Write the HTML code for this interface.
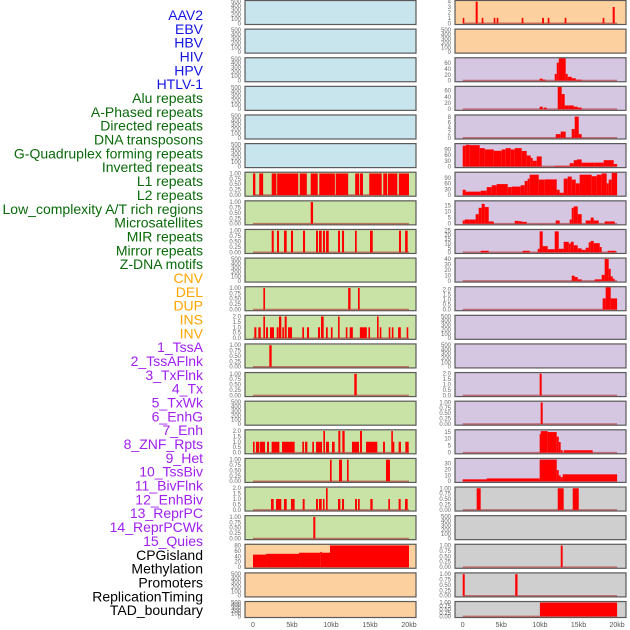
<!DOCTYPE html>
<html><head><meta charset="utf-8"><style>
html,body{margin:0;padding:0;background:#fff;width:630px;height:630px;overflow:hidden}
svg{display:block;font-family:"Liberation Sans",sans-serif}
</style></head><body>
<svg id="chart" width="630" height="630" viewBox="0 0 630 630"></svg>
<script>
const trackLabels=["AAV2","EBV","HBV","HIV","HPV","HTLV-1","Alu repeats","A-Phased repeats","Directed repeats","DNA transposons","G-Quadruplex forming repeats","Inverted repeats","L1 repeats","L2 repeats","Low_complexity A/T rich regions","Microsatellites","MIR repeats","Mirror repeats","Z-DNA motifs","CNV","DEL","DUP","INS","INV","1_TssA","2_TssAFlnk","3_TxFlnk","4_Tx","5_TxWk","6_EnhG","7_Enh","8_ZNF_Rpts","9_Het","10_TssBiv","11_BivFlnk","12_EnhBiv","13_ReprPC","14_ReprPCWk","15_Quies","CPGisland","Methylation","Promoters","ReplicationTiming","TAD_boundary"];
const labelColors=["#1515e0","#1515e0","#1515e0","#1515e0","#1515e0","#1515e0","#0a6a0a","#0a6a0a","#0a6a0a","#0a6a0a","#0a6a0a","#0a6a0a","#0a6a0a","#0a6a0a","#0a6a0a","#0a6a0a","#0a6a0a","#0a6a0a","#0a6a0a","#ffa500","#ffa500","#ffa500","#ffa500","#ffa500","#a020f0","#a020f0","#a020f0","#a020f0","#a020f0","#a020f0","#a020f0","#a020f0","#a020f0","#a020f0","#a020f0","#a020f0","#a020f0","#a020f0","#a020f0","#000","#000","#000","#000","#000"];
const xTickValues=[0,5,10,15,20];
const xTickLabels=["0","5kb","10kb","15kb","20kb"];
const tickSets={
 t500:[[0,100,200,300,400,500],["0","100","200","300","400","500"]],
 t1:[[0,0.25,0.5,0.75,1],["0.00","0.25","0.50","0.75","1.00"]],
 t2:[[0,0.5,1,1.5,2],["0.0","0.5","1.0","1.5","2.0"]],
 t4:[[0,1,2,3,4],["0","1","2","3","4"]],
 t8:[[0,2,4,6,8],["0","2","4","6","8"]],
 t15:[[0,5,10,15],["0","5","10","15"]],
 t25:[[0,5,10,15,20,25],["0","5","10","15","20","25"]],
 t30:[[0,10,20,30],["0","10","20","30"]],
 t40:[[0,10,20,30,40],["0","10","20","30","40"]],
 t60:[[0,20,40,60],["0","20","40","60"]],
 t80:[[0,20,40,60,80],["0","20","40","60","80"]],
 t90:[[0,30,60,90],["0","30","60","90"]]
};
const leftBg=["#c8e4ec","#c8e4ec","#c8e4ec","#c8e4ec","#c8e4ec","#c8e4ec","#c9e2a5","#c9e2a5","#c9e2a5","#c9e2a5","#c9e2a5","#c9e2a5","#c9e2a5","#c9e2a5","#c9e2a5","#c9e2a5","#c9e2a5","#c9e2a5","#c9e2a5","#fdd09f","#fdd09f","#fdd09f"];
const rightBg=["#fdd09f","#fdd09f","#d5c6e2","#d5c6e2","#d5c6e2","#d5c6e2","#d5c6e2","#d5c6e2","#d5c6e2","#d5c6e2","#d5c6e2","#d5c6e2","#d5c6e2","#d5c6e2","#d5c6e2","#d5c6e2","#d5c6e2","#cfcfcf","#cfcfcf","#cfcfcf","#cfcfcf","#cfcfcf"];
const leftDomain=[510,510,510,510,510,510,1.03,1.03,1.03,510,1.03,2.05,1.03,1.03,510,2.05,1.03,2.05,1.03,82,510,510];
const leftTicks=["t500","t500","t500","t500","t500","t500","t1","t1","t1","t500","t1","t2","t1","t1","t500","t2","t1","t2","t1","t80","t500","t500"];
const rightDomain=[4.1,510,77,72,8.6,118,118,18.3,25.5,40.5,2.2,510,510,2.05,1.03,16,38,1.03,510,1.03,1.03,1.03];
const rightTicks=["t4","t500","t60","t60","t8","t90","t90","t15","t25","t40","t2","t500","t500","t2","t1","t15","t30","t1","t500","t1","t1","t1"];
const leftSegments=[[],[],[],[],[],[],
 [[0,0.3,1],[0.8,1.3,1],[2.4,3,1],[3.1,5.8,1],[6,6.9,1],[7.4,8.3,1],[8.5,10.5,1],[10.6,12.2,1],[13.1,13.6,1],[13.7,14.1,1],[14.9,16.5,1],[16.7,17.2,1],[17.3,18.5,1],[18.7,20,1]],
 [[7.4,7.7,1]],
 [[2.4,2.66,1],[3.08,3.33,1],[3.97,4.32,1],[4.87,5.13,1],[6.41,6.67,1],[8.08,8.33,1],[8.46,8.81,1],[8.97,9.23,1],[9.36,9.71,1],[10.9,11.15,1],[11.41,11.67,1],[13.08,13.3,1],[15,15.35,1],[18.72,18.97,1],[19.5,19.83,1]],
 [],
 [[1.33,1.54,1],[12.2,12.5,1],[13.46,13.68,1]],
 [[0.17,0.43,1],[0.68,0.99,1],[1.33,1.54,2],[1.67,1.92,1],[2.18,2.69,1],[3.04,3.29,1],[3.33,3.63,2],[3.76,3.97,1],[4.06,4.32,2],[4.49,5,1],[6.32,6.54,1],[6.92,7.18,1],[8.33,8.59,1],[8.72,9.06,2],[9.36,9.58,1],[9.99,10.2,1],[10.9,11.1,2],[11.9,12.1,1],[12.4,12.8,1],[13.7,14.6,1],[14.8,15,1],[15.9,16.1,2],[16.25,16.45,1],[17.4,17.6,1],[17.8,18,1],[18.6,18.95,1],[19.7,19.9,1]],
 [[2.09,2.39,1]],
 [[12.99,13.3,1]],
 [],
 [[0,0.21,1],[0.38,0.81,1],[0.9,1.54,1],[1.8,2.05,1],[2.39,3.38,1],[3.72,5.34,1],[6.32,6.54,1],[6.67,6.97,1],[7.6,7.82,1],[8.08,8.85,1],[9.02,9.23,2],[9.36,9.74,1],[10.13,10.47,1],[10.94,11.2,2],[11.45,11.75,2],[12.69,13.33,1],[13.33,13.59,1],[13.72,13.97,2],[14.49,15.94,1],[16.67,16.92,1],[17.73,17.91,2],[17.91,18.12,1],[18.67,18.97,1],[19.53,19.96,1]],
 [[9.87,10.08,1],[11.03,11.41,1],[12.05,12.26,1],[17.05,17.56,1]],
 [[2.31,2.65,1],[2.95,3.63,1],[3.97,4.32,1],[4.87,5.34,1],[6.37,6.62,1],[8.08,8.33,1],[8.46,8.81,1],[8.97,9.15,1],[9.36,9.57,2],[10.9,11.2,1],[11.41,11.67,1],[13.08,13.33,1],[13.46,13.68,1],[15.04,15.34,1],[17.35,17.56,1],[18.67,18.93,1],[19.49,19.83,1]],
 [[7.73,7.99,1]],
 [[0,1.67,46],[1.67,5.9,49],[5.9,8.63,53],[8.63,8.75,56],[8.75,9.87,53],[9.87,20,80]],
 [],[]];
const rightSegments=[
 [[0,0.13,1],[1.68,1.94,4],[2.46,2.68,1],[4.02,4.23,1],[4.4,4.62,1],[7.64,7.86,1],[10.28,10.53,1],[11.01,11.23,1],[13.21,13.43,1],[18.13,18.35,1],[19.43,19.69,3]],
 [],
 [[9.97,10.36,6.5],[10.36,10.75,3],[11.92,12.18,23],[12.18,12.44,62],[12.44,13.34,78],[13.34,13.6,23],[13.6,14.12,13],[14.12,14.64,8],[14.64,14.9,3],[14.9,15.41,3]],
 [[9.97,10.36,8],[10.49,10.88,5],[12.31,12.82,72],[12.82,13.21,49],[13.21,13.73,12],[13.73,14.38,12],[14.38,14.9,8],[14.9,15.41,5]],
 [[12.05,12.69,1.4],[12.69,13.34,2.4],[14.12,14.51,3.4],[14.51,15.03,8.2],[15.03,15.41,1.4]],
 [[0,0.39,110],[0.39,0.91,115],[0.91,2.2,113],[2.2,2.85,97],[2.85,4.02,90],[4.02,5.05,83],[5.05,5.57,90],[5.57,6.22,97],[6.22,6.74,90],[6.74,7.64,97],[7.64,8.29,82],[8.29,8.81,58],[8.81,9.07,45],[9.07,9.59,30],[9.59,10.23,53],[11.92,12.44,3],[12.44,13.08,3],[13.08,13.86,3],[13.86,14.38,17],[14.38,14.81,33],[14.81,15.41,37],[15.41,17.1,20],[17.1,18.26,20],[18.26,19.56,33],[19.56,20,13]],
 [[0,0.39,28],[0.39,2.33,18],[2.33,3.11,23],[3.11,3.76,42],[3.76,4.4,52],[4.4,5.83,58],[5.83,6.35,42],[6.35,7.51,45],[7.51,8.03,52],[8.03,8.42,75],[8.42,8.68,87],[8.68,9.85,108],[9.85,10.62,82],[10.62,12.18,83],[12.18,12.56,28],[12.56,13.08,12],[13.08,13.6,87],[13.6,14.12,98],[14.12,14.64,82],[14.64,15.15,62],[15.15,16.71,108],[16.71,17.36,100],[17.36,18,108],[18,18.65,115],[18.65,18.91,62],[18.91,19.3,82],[19.3,20,118]],
 [[0,0.26,2.6],[0.26,0.91,3.4],[0.91,1.68,3.4],[1.68,2.07,7.8],[2.07,2.46,13],[2.46,2.85,16.3],[2.85,3.37,13.7],[3.37,4.02,1.8],[6.74,7.25,2.3],[7.25,7.64,2],[7.64,8.29,1.5],[12.05,12.56,2.6],[13.86,14.12,3.4],[14.12,14.38,13],[14.38,14.9,14.2],[14.9,15.41,7.8],[15.93,16.58,2.6],[16.58,16.97,5],[16.97,17.62,2.6],[18.39,19.04,1.8],[19.04,19.69,1.8]],
 [[2.33,3.37,1.7],[7.77,8.68,1.7],[9.72,9.97,4],[9.97,10.36,24],[10.36,11.01,7],[11.01,11.92,3.5],[11.92,12.44,24],[12.44,13.08,4],[13.08,13.73,12],[13.73,13.99,10],[13.99,14.38,12],[14.38,14.9,8],[14.9,15.41,4.5],[15.41,15.93,2.8],[15.93,16.32,5.2],[16.32,16.58,11.5],[16.58,16.97,13],[16.97,17.75,10.4],[17.75,18,6],[18.78,19.82,1.7]],
 [[14.12,14.51,9.4],[14.51,14.9,7],[14.9,15.41,2.8],[17.1,18,2.8],[18,18.39,11],[18.39,18.91,40],[18.91,19.17,22],[19.17,19.43,8.3],[19.43,19.69,3.9]],
 [[18.13,18.52,1.1],[18.52,19.17,2.2],[19.17,20,1.1]],
 [],[],
 [[9.97,10.23,2]],
 [[10.1,10.36,1]],
 [[9.97,10.1,13.3],[10.1,11.01,15.5],[11.01,12.18,14.8],[12.18,12.44,11.5],[12.44,12.69,7.6],[12.69,12.95,1.7],[13.08,16.84,1.7]],
 [[0,3.11,3.2],[3.11,9.97,4.8],[9.97,12.18,37],[12.18,12.44,19],[12.44,12.69,10],[12.69,12.95,7],[12.95,20,11.8]],
 [[1.81,2.33,1],[12.31,13.08,1],[14.25,15.03,1]],
 [],
 [[12.7,12.95,1]],
 [[0,0.26,1],[6.8,7.1,1]],
 [[10,20,1]]];

const NS="http://www.w3.org/2000/svg";
const svg=document.getElementById('chart');
function mk(tag,attrs,parent){const e=document.createElementNS(NS,tag);for(const k in attrs)e.setAttribute(k,attrs[k]);(parent||svg).appendChild(e);return e;}
function rowTop(i){return i*28.62+0.5;}
function rowH(i){return i===21?16:24;}
const cols=[
 {left:245,width:171,x0:253,k:7.8,bg:leftBg,dom:leftDomain,ticks:leftTicks,segs:leftSegments,side:'left'},
 {left:455,width:171,x0:462.7,k:7.72,bg:rightBg,dom:rightDomain,ticks:rightTicks,segs:rightSegments,side:'right'}];

// labels
trackLabels.forEach((t,i)=>{
 const el=mk('text',{x:203,y:15+i*13.84+5,'text-anchor':'end','font-size':14,fill:labelColors[i]});
 el.textContent=t;
 
 
});

cols.forEach(c=>{
 const xs=kb=>c.x0+kb*c.k;
 for(let i=0;i<22;i++){
  const top=rowTop(i),h=rowH(i),bot=top+h;
  const g=mk('g',{});
  
  
  mk('rect',{x:c.left,y:top,width:c.width,height:h,fill:c.bg[i],stroke:'#5a5a5a','stroke-width':1.2},g);
  const zeroY=bot-1.2, span=h-1.8, dmax=c.dom[i];
  const ys=v=>zeroY-Math.min(v,dmax)/dmax*span;
  const ts=tickSets[c.ticks[i]];
  ts[0].forEach((v,j)=>{
   const tl=mk('text',{x:c.left-4,y:ys(v)+2,'text-anchor':'end','font-size':6,fill:'#6a6a6a'},g);
   tl.textContent=ts[1][j];
   
   
  });
  const segs=c.segs[i];
  if(segs.length){
   const bl=mk('line',{x1:xs(0),x2:xs(20),y1:zeroY,y2:zeroY,stroke:'#b03030','stroke-opacity':0.6,'stroke-width':1.5},g);
   
   
  }
  segs.forEach(s=>{
   const x1=xs(s[0]),x2=xs(s[1]);
   const w=Math.max(1.6,x2-x1);
   const yt=ys(s[2]);
   const r=mk('rect',{x:x1,y:yt,width:w,height:Math.max(0,zeroY-yt),fill:'#ff0000'},g);
   
   
  });
 }
 xTickValues.forEach((v,j)=>{
  const t=mk('text',{x:xs(v),y:627,'text-anchor':'middle','font-size':7,fill:'#555'});
  t.textContent=xTickLabels[j];
  
  
 });
});
</script>
</body></html>
